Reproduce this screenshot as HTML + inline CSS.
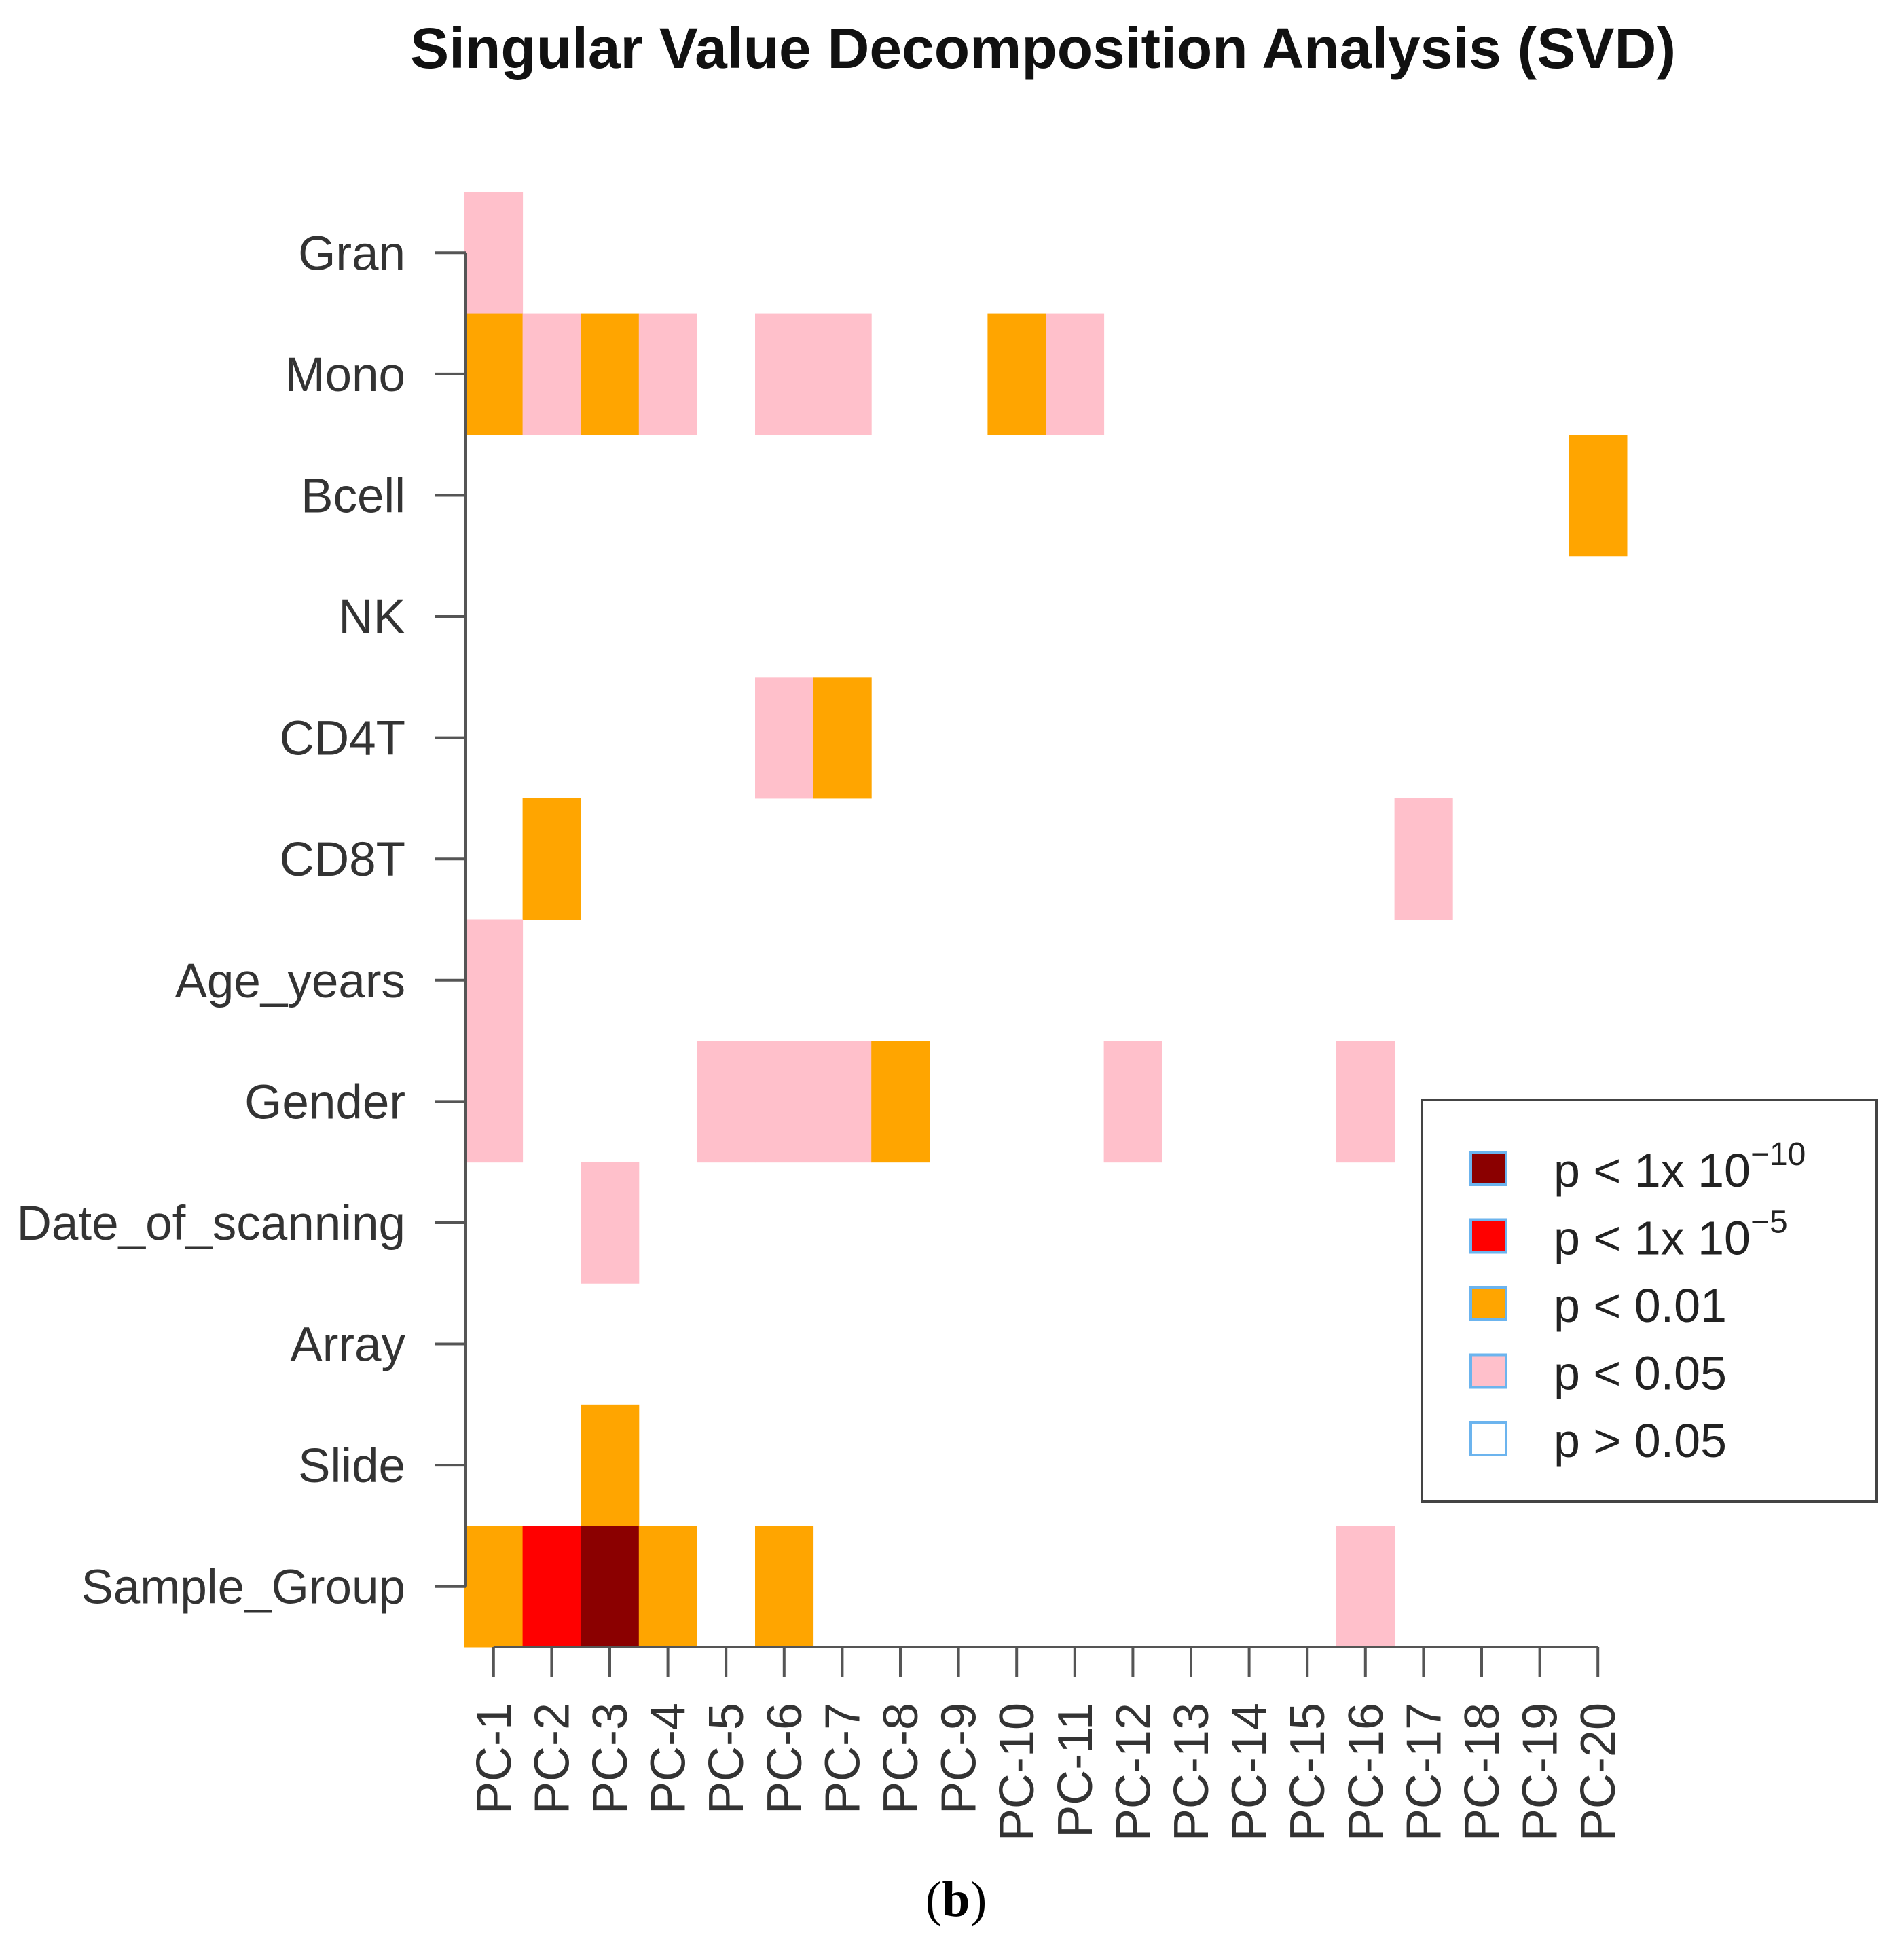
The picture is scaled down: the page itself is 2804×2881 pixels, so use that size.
<!DOCTYPE html>
<html><head><meta charset="utf-8"><style>
html,body{margin:0;padding:0;background:#fff;}
svg{display:block;}
text{font-family:"Liberation Sans",sans-serif;}
</style></head>
<body>
<svg id="chart" width="2804" height="2881" viewBox="0 0 2804 2881" xmlns="http://www.w3.org/2000/svg">
<text x="1536" y="100" text-anchor="middle" font-size="84" font-weight="bold" fill="#111" textLength="1864" lengthAdjust="spacingAndGlyphs">Singular Value Decomposition Analysis (SVD)</text>
<g id="cells"></g>
<g id="axes"></g>
<g id="legend"></g>
<text x="1408" y="2822" text-anchor="middle" font-size="74" style="font-family:'Liberation Serif',serif" fill="#000">(<tspan font-weight="bold">b</tspan>)</text>
</svg>
<script>
const rowLabels = ["Gran","Mono","Bcell","NK","CD4T","CD8T","Age_years","Gender","Date_of_scanning","Array","Slide","Sample_Group"];
const colLabels = ["PC-1","PC-2","PC-3","PC-4","PC-5","PC-6","PC-7","PC-8","PC-9","PC-10","PC-11","PC-12","PC-13","PC-14","PC-15","PC-16","PC-17","PC-18","PC-19","PC-20"];
// significance level codes: 0 p>0.05, 1 p<0.05, 2 p<0.01, 3 p<1e-5, 4 p<1e-10
const rowGran   = [1,0,0,0,0,0,0,0,0,0,0,0,0,0,0,0,0,0,0,0];
const rowMono   = [2,1,2,1,0,1,1,0,0,2,1,0,0,0,0,0,0,0,0,0];
const rowBcell  = [0,0,0,0,0,0,0,0,0,0,0,0,0,0,0,0,0,0,0,2];
const rowNK     = [0,0,0,0,0,0,0,0,0,0,0,0,0,0,0,0,0,0,0,0];
const rowCD4T   = [0,0,0,0,0,1,2,0,0,0,0,0,0,0,0,0,0,0,0,0];
const rowCD8T   = [0,2,0,0,0,0,0,0,0,0,0,0,0,0,0,0,1,0,0,0];
const rowAge    = [1,0,0,0,0,0,0,0,0,0,0,0,0,0,0,0,0,0,0,0];
const rowGender = [1,0,0,0,1,1,1,2,0,0,0,1,0,0,0,1,0,0,0,0];
const rowDate   = [0,0,1,0,0,0,0,0,0,0,0,0,0,0,0,0,0,0,0,0];
const rowArray  = [0,0,0,0,0,0,0,0,0,0,0,0,0,0,0,0,0,0,0,0];
const rowSlide  = [0,0,2,0,0,0,0,0,0,0,0,0,0,0,0,0,0,0,0,0];
const rowSample = [2,3,4,2,0,2,0,0,0,0,0,0,0,0,0,1,0,0,0,0];
const legendLabels = ["p < 1x 10|−10","p < 1x 10|−5","p < 0.01","p < 0.05","p > 0.05"];
const levelColors = ["#FFFFFF","#FFC0CB","#FFA500","#FF0000","#8B0000"];

const matrix = [rowGran,rowMono,rowBcell,rowNK,rowCD4T,rowCD8T,rowAge,rowGender,rowDate,rowArray,rowSlide,rowSample];
const NS="http://www.w3.org/2000/svg";
const X0=684, X1=2396, Y0=283, Y1=2426;
const cw=(X1-X0)/colLabels.length, rh=(Y1-Y0)/rowLabels.length;
const xs=i=>X0+i*cw, ys=j=>Y0+j*rh;
function mk(tag,attrs,parent){const e=document.createElementNS(NS,tag);for(const k in attrs)e.setAttribute(k,attrs[k]);parent.appendChild(e);return e;}
const cells=document.getElementById('cells'), axes=document.getElementById('axes'), legend=document.getElementById('legend');
matrix.forEach((row,j)=>row.forEach((v,i)=>{
  if(!v) return;
  const r=mk('rect',{x:xs(i),y:ys(j),width:cw+0.5,height:rh+0.5,fill:levelColors[v]},cells);
  
  
}));
// y axis
const yl=mk('line',{x1:X0+2,x2:X0+2,y1:ys(0.5),y2:ys(rowLabels.length-0.5),stroke:'#555','stroke-width':4},axes);


rowLabels.forEach((l,j)=>{
  const y=ys(j+0.5);
  const t=mk('line',{x1:641,x2:X0+2,y1:y,y2:y,stroke:'#555','stroke-width':4},axes);
  
  
  const tx=mk('text',{x:597,y:y+25,'text-anchor':'end','font-size':71,fill:'#333'},axes);
  tx.textContent=l;
  
  
});
// x axis
const xl=mk('line',{x1:xs(0.5),x2:xs(colLabels.length-0.5),y1:Y1,y2:Y1,stroke:'#555','stroke-width':4},axes);


colLabels.forEach((l,i)=>{
  const x=xs(i+0.5);
  const t=mk('line',{x1:x,x2:x,y1:Y1,y2:Y1+44,stroke:'#555','stroke-width':4},axes);
  
  
  const tx=mk('text',{x:0,y:0,'text-anchor':'end','font-size':72,fill:'#333',transform:`translate(${x+25},2508) rotate(-90)`},axes);
  tx.textContent=l;
  
  
});
// legend
const box=mk('rect',{x:2094,y:1620,width:670,height:592,fill:'#fff',stroke:'#444','stroke-width':4},legend);


legendLabels.forEach((l,k)=>{
  const cy=1723+k*99.5;
  const lvl=levelColors.length-1-k;
  const sw=mk('rect',{x:2166,y:cy-26,width:52,height:48,fill:levelColors[lvl],stroke:'#6cb4ee','stroke-width':4},legend);
  
  
  const tx=mk('text',{x:2288,y:cy+25,'font-size':70,fill:'#222'},legend);
  const parts=l.split('|');
  tx.textContent=parts[0];
  if(parts[1]){const s=mk('tspan',{dy:-32,'font-size':48},tx);s.textContent=parts[1];}
  
  
});
</script>
</body></html>
